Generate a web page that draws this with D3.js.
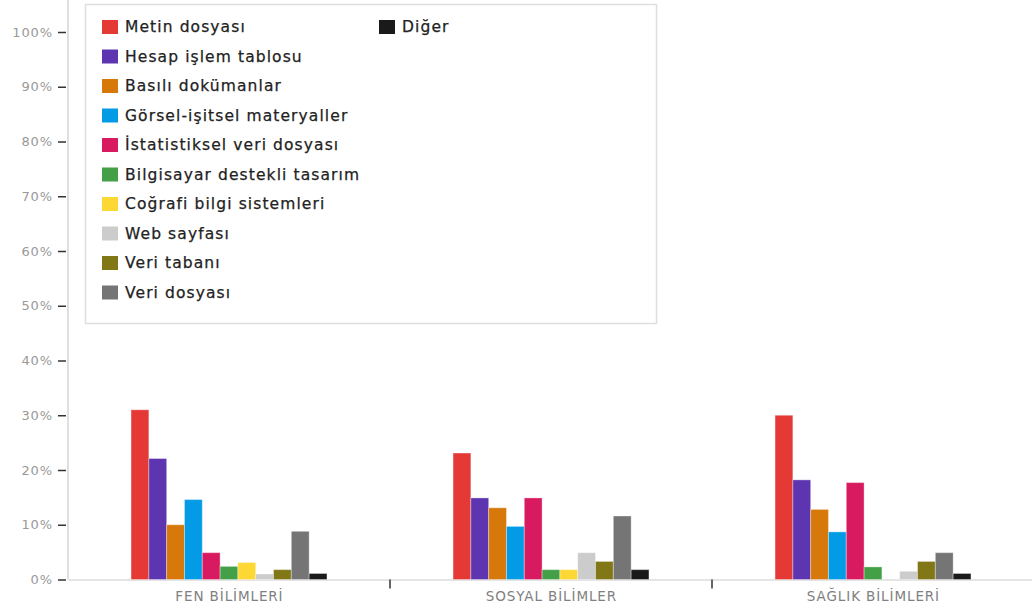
<!DOCTYPE html>
<html>
<head>
<meta charset="utf-8">
<script src="https://cdn.jsdelivr.net/npm/d3@7"></script>
<style>
  html, body { margin: 0; padding: 0; background: #fff; }
  svg { display: block; font-family: "DejaVu Sans", sans-serif; }
</style>
</head>
<body>
<svg id="chart" width="1032" height="612"></svg>
<script>
// Disciplines on the x axis
const categories = ["FEN BİLİMLERİ", "SOSYAL BİLİMLER", "SAĞLIK BİLİMLERİ"];

// Data types (series) and their colours
const seriesNames = [
  "Metin dosyası", "Hesap işlem tablosu", "Basılı dokümanlar",
  "Görsel-işitsel materyaller", "İstatistiksel veri dosyası",
  "Bilgisayar destekli tasarım", "Coğrafi bilgi sistemleri",
  "Web sayfası", "Veri tabanı", "Veri dosyası", "Diğer"
];
const seriesColors = [
  "#e53935", "#5e35b1", "#d6780a", "#039be5", "#d81b60",
  "#43a047", "#fdd835", "#cccccc", "#827717", "#757575", "#1a1a1a"
];

// Percentages per discipline, in series order
const fenValues    = [31.0, 22.1, 10.0, 14.6, 4.9, 2.4, 3.1, 1.0, 1.8, 8.8, 1.1];
const sosyalValues = [23.1, 14.9, 13.1, 9.7, 14.9, 1.8, 1.8, 4.9, 3.3, 11.6, 1.8];
const saglikValues = [30.0, 18.2, 12.8, 8.7, 17.7, 2.3, 0.0, 1.5, 3.3, 4.9, 1.1];

const yTicks = [0, 10, 20, 30, 40, 50, 60, 70, 80, 90, 100];

const valuesByCategory = [fenValues, sosyalValues, saglikValues];

const svg = d3.select("#chart");

const x0 = d3.scaleBand().domain(categories).range([68, 1034]).padding(0);
const x1 = d3.scaleBand().domain(seriesNames).range([0, x0.bandwidth()])
  .paddingInner(0).paddingOuter(3.54);
const y = d3.scaleLinear().domain([0, 100]).range([579.5, 32]);

// Y axis
const yAxis = svg.append("g").attr("transform", "translate(68,0)")
  .call(d3.axisLeft(y).tickValues(yTicks).tickSize(10).tickPadding(5)
    .tickFormat(d => d + "%"));
yAxis.select(".domain").attr("stroke", "#d6d6d6").attr("stroke-width", 1.5)
  .attr("d", "M0,0V579.5");
yAxis.selectAll(".tick line").attr("stroke", "#333").attr("stroke-width", 1.5)
  .attr("x1", -2);
yAxis.selectAll(".tick text").attr("fill", "#999").attr("font-size", 13)
  .attr("letter-spacing", 0.9)
  .attr("font-family", "DejaVu Sans, sans-serif");

// X axis baseline and group separators
const xAxis = svg.append("g").attr("transform", `translate(0,${y(0)})`)
  .call(d3.axisBottom(x0).tickSize(0).tickPadding(12));
xAxis.select(".domain").attr("stroke", "#dcdcdc").attr("stroke-width", 1.5);
xAxis.selectAll(".tick text").attr("fill", "#808080").attr("font-size", 13.5)
  .attr("letter-spacing", 0.9).attr("dx", "0.4")
  .attr("font-family", "DejaVu Sans, sans-serif");
svg.append("g").selectAll("line")
  .data(categories.slice(1))
  .join("line")
  .attr("x1", d => x0(d)).attr("x2", d => x0(d))
  .attr("y1", y(0)).attr("y2", y(0) + 9)
  .attr("stroke", "#333").attr("stroke-width", 1.5);

// Bars
const groups = svg.append("g").selectAll("g")
  .data(categories)
  .join("g")
  .attr("transform", d => `translate(${x0(d)},0)`);
groups.selectAll("rect")
  .data((d, i) => valuesByCategory[i].map((v, j) => ({ name: seriesNames[j], value: v, color: seriesColors[j] })))
  .join("rect")
  .attr("x", d => x1(d.name))
  .attr("width", x1.bandwidth())
  .attr("y", d => y(d.value))
  .attr("height", d => y(0) - y(d.value))
  .attr("fill", d => d.color)
  .attr("stroke", "#fff").attr("stroke-opacity", 0.35).attr("stroke-width", 1);

// Legend
const legend = svg.append("g");
legend.append("rect")
  .attr("x", 85.5).attr("y", 4.5).attr("width", 571).attr("height", 319)
  .attr("fill", "#fff").attr("stroke", "#dedede").attr("stroke-width", 1.5);
const rowsPerCol = 10;
const item = legend.selectAll("g.item")
  .data(seriesNames)
  .join("g")
  .attr("class", "item")
  .attr("transform", (d, i) => {
    const col = Math.floor(i / rowsPerCol), row = i % rowsPerCol;
    return `translate(${102 + col * 277},${27 + row * 29.5})`;
  });
item.append("rect")
  .attr("x", 0).attr("y", -7).attr("width", 16).attr("height", 14)
  .attr("fill", (d, i) => seriesColors[i]);
item.append("text")
  .attr("x", 23).attr("y", 0).attr("dy", "0.35em")
  .attr("font-size", 15.5).attr("letter-spacing", 1.1)
  .attr("fill", "#222").attr("stroke", "#222").attr("stroke-width", 0.25)
  .text(d => d);
</script>
</body>
</html>
